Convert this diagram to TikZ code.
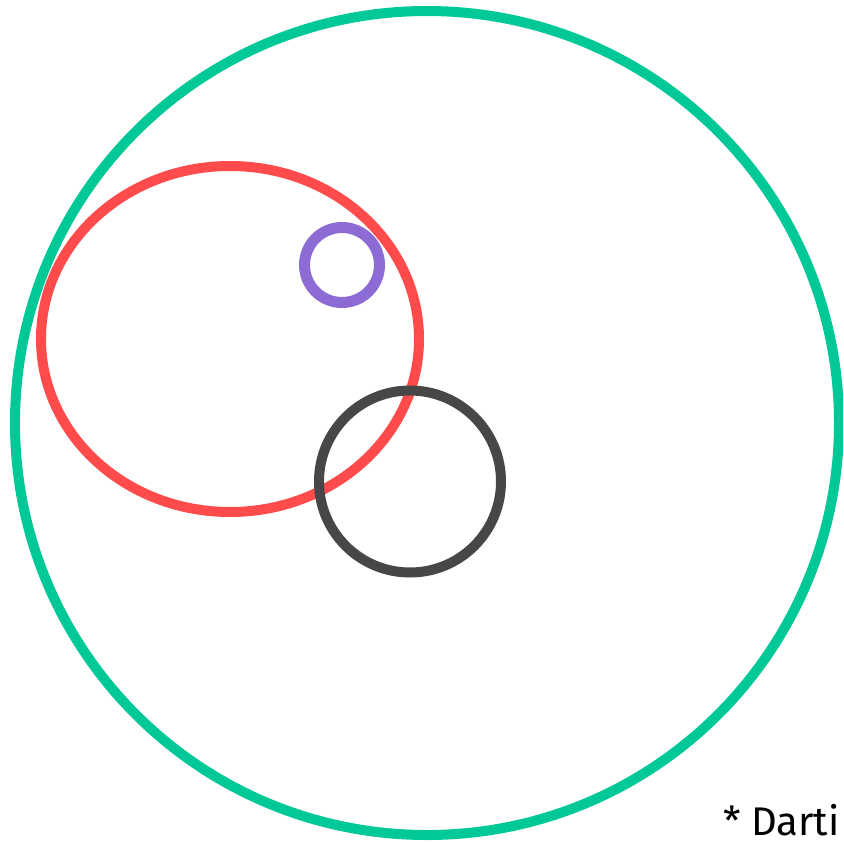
\documentclass[tikz,border=0pt]{standalone}
\usepackage{fontspec}
\setmainfont{Fira Sans}
\definecolor{cgreen}{HTML}{00C896}
\definecolor{cred}{HTML}{FF4B4B}
\definecolor{cpurple}{HTML}{8C6BD5}
\definecolor{cdark}{HTML}{474747}
\begin{document}
\begin{tikzpicture}[x=1pt,y=-1pt,
  ring/.style={line width=10pt}]
\useasboundingbox (0,0) rectangle (843,843);
\clip (0,0) rectangle (843,843);
\fill[white] (0,0) rectangle (843,843);
\draw[ring,cgreen] (427,423) circle[radius=412];
\draw[ring,cred] (230,339) ellipse[x radius=189,y radius=173];
\draw[ring,cpurple,line width=11pt] (342,265) circle[radius=37.5];
\draw[ring,cdark] (410,481.5) circle[radius=91];
\node[anchor=base west,inner sep=0pt,font=\fontsize{40}{46}\selectfont] (note) at (723,835) {* Darti};
\end{tikzpicture}
\end{document}
